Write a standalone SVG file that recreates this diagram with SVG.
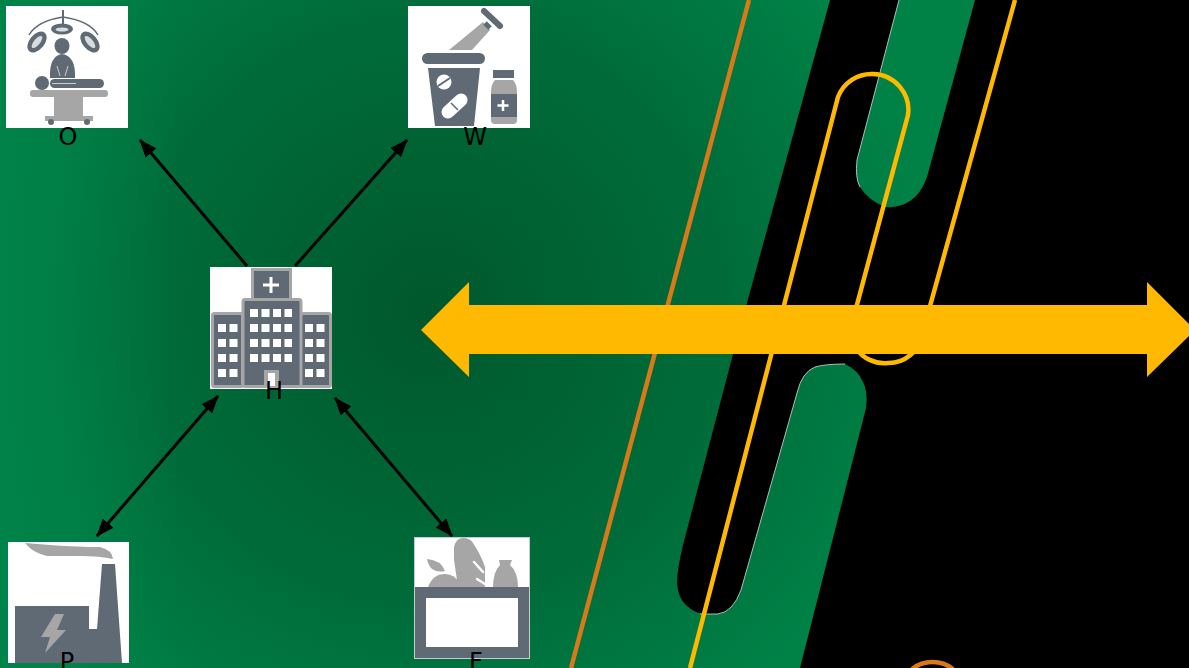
<svg xmlns="http://www.w3.org/2000/svg" width="1189" height="668" viewBox="0 0 1189 668">
<style>
.card{fill:#fff}
.d{fill:#5f6b75}
.g{fill:#a6a6a6}
.w{fill:#fff}
.lbl{font-family:"DejaVu Sans",sans-serif;font-size:24px;fill:#000;text-anchor:middle}
.conn{fill:none;stroke:#000;stroke-width:3}
.yl{fill:none;stroke:#ffb900;stroke-width:4.500}
.or{fill:none;stroke:#d97a1a;stroke-width:4.500}
.edge{fill:none;stroke:#cfe3da;stroke-width:0.8}
</style>
<defs>
<radialGradient id="bg" gradientUnits="userSpaceOnUse" cx="430" cy="310" r="500">
<stop offset="0" stop-color="#00582c"/>
<stop offset="0.6" stop-color="#006c3a"/>
<stop offset="0.85" stop-color="#007a42"/>
<stop offset="1" stop-color="#008247"/>
</radialGradient>
<linearGradient id="bgl" gradientUnits="userSpaceOnUse" x1="0" y1="0" x2="180" y2="0">
<stop offset="0" stop-color="#008349" stop-opacity="0.9"/>
<stop offset="1" stop-color="#008349" stop-opacity="0"/>
</linearGradient>
<marker id="ah" viewBox="0 0 18 14" refX="17" refY="7" markerWidth="18" markerHeight="14" markerUnits="userSpaceOnUse" orient="auto-start-reverse"><path d="M0 0L18 7L0 14Z" fill="#000"/></marker>
<filter id="soft" x="-5%" y="-5%" width="110%" height="110%"><feGaussianBlur stdDeviation="0.45"/></filter>
</defs>
<rect id="background" width="1189" height="668" fill="url(#bg)"/>
<rect id="background-left" width="180" height="668" fill="url(#bgl)"/>
<g id="band">
<path fill="#000" d="M830 0L733 354L683 545Q677 570 677 583Q678 598 686 605Q695 614 706 614L718 614Q733 612 741 590L797 393Q802 372 815 367Q825 364 845 364Q858 370 863 382Q868 392 866 408L800 668L1189 668L1189 0L975 0L927 177Q921 194 910 201Q900 208 885 207Q868 200 860 187Q855 178 857 160L899 0Z"/>
<path class="edge" d="M700 614L718 614Q733 612 741 590L797 393Q802 372 815 367Q825 364 845 364"/>
<path class="edge" d="M860 187Q855 178 857 160L899 0"/>
</g>
<g id="lines">
<path class="or" d="M749 0L571 668"/>
<path class="or" d="M912 669A34 34 0 0 1 953 669"/>
<path class="yl" d="M690 668L838 97A36 36 0 0 1 873 74A36 36 0 0 1 908 115L855 312A34 34 0 0 0 888 363A34 34 0 0 0 922 335L1015 0"/>
</g>
<g id="double-arrow"><path fill="#ffb900" d="M421 330L469 282L469 305L1147 305L1147 282L1195 330L1147 377L1147 354L469 354L469 377Z"/></g>
<g id="node-O">
<rect class="card" x="6" y="6" width="122" height="122"/>
<g filter="url(#soft)">
<path d="M63 10V25" stroke="#5f6b75" stroke-width="2" fill="none"/>
<path d="M29 35Q37 21 63 17Q90 21 98 35" stroke="#5f6b75" stroke-width="1.500" fill="none"/>
<ellipse class="d" cx="62" cy="29" rx="11" ry="5.500"/><ellipse cx="62" cy="29.500" rx="6.500" ry="2" fill="#d8dcdf"/>
<ellipse class="d" cx="37" cy="42" rx="12" ry="7.500" transform="rotate(-50 37 42)"/><ellipse cx="37" cy="42" rx="7.500" ry="3" fill="#d8dcdf" transform="rotate(-50 37 42)"/>
<ellipse class="d" cx="90" cy="42" rx="12" ry="7.500" transform="rotate(50 90 42)"/><ellipse cx="90" cy="42" rx="7.500" ry="3" fill="#d8dcdf" transform="rotate(50 90 42)"/>
<ellipse class="d" cx="62" cy="46" rx="7.500" ry="8"/>
<path class="d" d="M50 78Q49 56 62 54Q76 56 75 78Z"/>
<path d="M57 66L60 76M68 66L65 76" stroke="#c9ced2" stroke-width="1" fill="none"/>
<circle class="d" cx="42" cy="83" r="7"/>
<rect class="d" x="50" y="79" width="54" height="9" rx="4.500"/>
<path d="M52 83.500H76" stroke="#c9ced2" stroke-width="1"/>
<rect class="g" x="30" y="90" width="78" height="7" rx="3"/>
<rect class="g" x="54" y="97" width="29" height="19"/>
<rect class="g" x="45" y="116" width="48" height="5"/>
<circle class="d" cx="51" cy="122" r="3"/><circle class="d" cx="87" cy="122" r="3"/>
</g>
<text class="lbl" x="68" y="145">O</text>
</g>
<g id="node-W">
<rect class="card" x="408" y="6" width="122" height="122"/>
<g filter="url(#soft)">
<path class="g" d="M449 50L483 22L490 30L472 50Z"/>
<path d="M484 11L500 26" stroke="#5f6b75" stroke-width="6" stroke-linecap="round"/>
<path d="M485 23L490 28" stroke="#5f6b75" stroke-width="5"/>
<rect class="d" x="422" y="53" width="63" height="11" rx="5.500"/>
<path class="d" d="M428 68H480L474 126H435Z"/>
<circle class="w" cx="444" cy="82" r="7.500"/><path d="M438 86L450 78" stroke="#5f6b75" stroke-width="2"/>
<path d="M448 112L461 100" stroke="#fff" stroke-width="13" stroke-linecap="round"/>
<path d="M451 103L458 110" stroke="#5f6b75" stroke-width="1.500"/>
<rect class="d" x="493" y="70" width="21" height="8"/>
<path class="g" d="M495 80H513Q517 84 517 92V120Q517 124 513 124H495Q491 124 491 120V92Q491 84 495 80Z"/>
<rect class="d" x="491" y="94" width="26" height="23"/>
<path d="M503 100V111M497.500 105.500H508.500" stroke="#fff" stroke-width="2.500"/>
</g>
<text class="lbl" x="475" y="145">W</text>
</g>
<g id="node-H">
<rect class="card" x="210" y="267" width="122" height="122"/>
<g filter="url(#soft)">
<rect class="d" x="252.500" y="269.500" width="38" height="32" stroke="#a6a6a6" stroke-width="3"/>
<path d="M271 277V293M263 285H279" stroke="#fff" stroke-width="3"/>
<rect class="d" x="212.500" y="313.500" width="30" height="73" stroke="#a6a6a6" stroke-width="3" rx="2"/>
<rect class="d" x="300.500" y="313.500" width="30" height="73" stroke="#a6a6a6" stroke-width="3" rx="2"/>
<rect class="d" x="243" y="299.500" width="58" height="87" stroke="#a6a6a6" stroke-width="3" rx="2"/>
<path stroke="#fff" stroke-width="8" stroke-dasharray="8 3.500" fill="none" d="M250 313H292M250 328H292M250 343H292M250 358H292M218 328H238M218 343H238M218 358H238M218 373H238M305 328H325M305 343H325M305 358H325M305 373H325"/>
<rect class="g" x="264" y="370" width="15" height="16"/>
<rect class="w" x="268" y="373" width="7" height="13"/>
</g>
<text class="lbl" x="274" y="399">H</text>
</g>
<g id="node-P">
<rect class="card" x="8" y="542" width="121" height="121"/>
<g filter="url(#soft)">
<path class="g" d="M25 543L50 545Q80 547 100 547Q112 550 113 559Q100 556 80 556L47 556Q33 553 25 543Z"/>
<path class="d" d="M15 606H89V629H97L102 564H115L122 663H15Z"/>
<path class="g" d="M55 614H64L57 630H66L45 653L50 637H41Z"/>
</g>
<text class="lbl" x="67" y="670">P</text>
</g>
<g id="node-F">
<rect x="414.500" y="537.500" width="115" height="121" fill="#fff" stroke="#c8ccd0"/>
<g filter="url(#soft)">
<path class="g" d="M454 547Q456 538 463 538Q470 538 473 543Q481 555 485 567L485 587H458L454 560Z"/>
<path d="M474 562L483 572M477 579L485 584" stroke="#fff" stroke-width="2.500" stroke-linecap="round"/>
<path class="g" d="M428 587Q433 574 445 574Q455 574 460 584V587Z"/>
<path class="g" d="M427 559Q441 560 445 571Q430 574 427 559Z"/>
<path class="g" d="M493 587Q493 572 500 565L499 560H512L510 565Q518 572 518 587Z"/>
<path class="d" d="M415 587H529V658H415ZM426 598V647H518V598Z" fill-rule="evenodd"/>
</g>
<text class="lbl" x="476" y="670">F</text>
</g>
<g id="connectors">
<path class="conn" marker-end="url(#ah)" d="M247 266L140 140"/>
<path class="conn" marker-end="url(#ah)" d="M295 266L407 140"/>
<path class="conn" marker-start="url(#ah)" marker-end="url(#ah)" d="M218 396L97 536"/>
<path class="conn" marker-start="url(#ah)" marker-end="url(#ah)" d="M335 398L452 536"/>
</g>
</svg>
